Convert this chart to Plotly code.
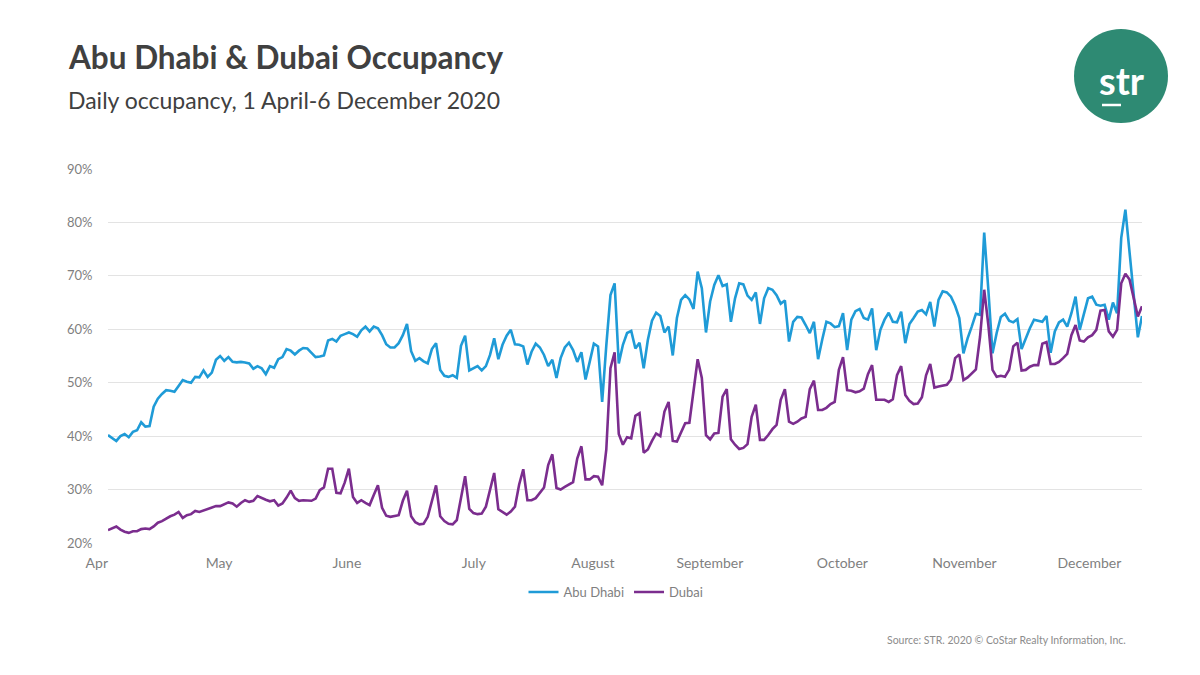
import pandas as pd
import plotly.graph_objects as go

# ---------------- data ----------------
start_date = "2020-04-01"
end_date = "2020-12-06"
dates = pd.date_range(start_date, end_date, freq="D")

abu_dhabi = [
    40.2, 39.6, 39.1, 40.0, 40.4, 39.8, 40.8, 41.1, 42.6, 41.8,
    41.9, 45.5, 47.0, 47.9, 48.6, 48.5, 48.3, 49.4, 50.5, 50.2,
    50.0, 51.1, 51.0, 52.3, 51.1, 51.9, 54.3, 55.0, 54.1, 54.8,
    53.9, 53.8, 53.9, 53.8, 53.6, 52.6, 53.1, 52.7, 51.6, 53.1,
    52.8, 54.4, 54.8, 56.3, 56.0, 55.3, 56.0, 56.5, 56.4, 55.6,
    54.8, 54.9, 55.1, 57.9, 58.2, 57.7, 58.8, 59.1, 59.4, 59.1,
    58.6, 59.8, 60.5, 59.6, 60.5, 60.2, 58.9, 57.2, 56.6, 56.6,
    57.4, 58.9, 61.0, 55.9, 54.1, 54.6, 54.0, 53.6, 56.3, 57.4,
    52.4, 51.3, 51.1, 51.4, 50.9, 56.9, 58.8, 52.3, 52.7, 53.1,
    52.3, 53.1, 55.2, 58.3, 54.4, 57.1, 58.8, 59.9, 57.2, 57.1,
    56.8, 53.4, 55.8, 57.3, 56.6, 55.2, 53.1, 54.3, 50.9, 54.6,
    56.6, 57.5, 56.1, 53.9, 55.7, 50.6, 53.9, 57.3, 56.8, 46.4,
    57.0, 66.4, 68.6, 53.6, 57.1, 59.3, 59.7, 56.4, 57.5, 52.7,
    58.0, 61.6, 63.1, 62.5, 59.4, 60.5, 55.1, 62.1, 65.5, 66.4,
    65.6, 63.8, 70.8, 67.7, 59.4, 65.2, 68.3, 70.1, 68.1, 68.4,
    61.4, 65.8, 68.6, 68.4, 66.3, 65.5, 66.9, 61.0, 65.8, 67.7,
    67.4, 66.4, 64.8, 65.4, 57.7, 61.4, 62.3, 62.2, 60.8, 59.3,
    61.4, 54.4, 58.1, 61.4, 61.1, 60.4, 60.6, 63.0, 56.1, 61.8,
    63.4, 63.8, 62.1, 61.8, 63.9, 56.1, 59.9, 61.8, 63.1, 61.4,
    61.3, 63.3, 57.4, 61.0, 62.1, 63.3, 63.6, 62.8, 65.1, 60.5,
    65.5, 67.1, 66.9, 66.1, 64.4, 62.1, 55.5, 58.3, 60.5, 62.9,
    62.7, 78.1, 67.4, 55.5, 59.3, 62.3, 62.9, 61.6, 61.3, 61.9,
    56.3, 58.3, 60.2, 61.8, 61.6, 61.4, 62.5, 55.6, 59.6, 61.3,
    61.8, 60.5, 63.0, 66.1, 59.9, 63.1, 65.8, 66.1, 64.6, 64.4,
    64.6, 61.8, 65.0, 63.0, 77.1, 82.4, 74.0, 66.0, 58.5, 62.5,
]

dubai = [
    22.4, 22.8, 23.1, 22.5, 22.1, 21.9, 22.2, 22.2, 22.6, 22.7,
    22.6, 23.1, 23.8, 24.1, 24.6, 25.0, 25.3, 25.8, 24.7, 25.2,
    25.4, 26.0, 25.8, 26.1, 26.3, 26.6, 26.9, 26.9, 27.3, 27.6,
    27.4, 26.8, 27.5, 28.0, 27.7, 27.9, 28.8, 28.4, 28.1, 27.8,
    28.0, 27.0, 27.4, 28.5, 29.8, 28.4, 27.9, 28.0, 28.0, 27.9,
    28.3, 29.9, 30.4, 33.9, 33.9, 29.4, 29.3, 31.3, 33.9, 28.6,
    27.5, 28.0, 27.5, 27.1, 29.0, 30.8, 26.6, 25.1, 24.9, 25.1,
    25.2, 27.9, 29.8, 25.0, 23.9, 23.5, 23.6, 24.9, 28.1, 30.8,
    25.0, 24.1, 23.6, 23.5, 24.3, 28.6, 32.5, 26.4, 25.6, 25.4,
    25.5, 26.8, 30.2, 33.1, 26.3, 25.8, 25.3, 25.9, 26.8, 30.9,
    33.8, 28.0, 28.0, 28.4, 29.3, 30.4, 34.6, 36.6, 30.3, 30.0,
    30.5, 30.9, 31.4, 35.8, 38.1, 31.9, 31.9, 32.5, 32.4, 30.8,
    37.5, 52.7, 55.7, 40.4, 38.4, 39.8, 39.6, 43.8, 44.3, 36.9,
    37.5, 39.1, 40.5, 40.0, 44.6, 46.4, 39.1, 39.0, 40.8, 42.4,
    42.5, 48.6, 54.4, 50.9, 40.2, 39.4, 40.5, 40.6, 47.4, 48.8,
    39.4, 38.4, 37.6, 37.8, 38.5, 43.6, 45.9, 39.3, 39.3, 40.2,
    41.3, 42.1, 46.8, 48.8, 42.7, 42.3, 42.7, 43.3, 43.6, 48.8,
    50.4, 44.9, 44.9, 45.3, 46.0, 46.4, 52.4, 54.8, 48.6, 48.5,
    48.2, 48.4, 48.9, 51.6, 53.3, 46.8, 46.8, 46.8, 46.4, 46.9,
    51.4, 53.1, 47.7, 46.6, 46.0, 46.1, 47.3, 51.4, 53.5, 49.1,
    49.3, 49.4, 49.6, 50.6, 54.6, 55.3, 50.5, 51.0, 51.8, 52.5,
    58.6, 67.4, 60.8, 52.4, 51.1, 51.3, 51.1, 52.4, 56.8, 57.5,
    52.3, 52.4, 53.0, 53.3, 53.3, 57.3, 57.6, 53.5, 53.5, 53.9,
    54.6, 55.4, 58.9, 60.8, 57.9, 57.7, 58.5, 58.9, 59.9, 63.5,
    63.6, 59.6, 58.6, 59.9, 68.6, 70.4, 69.3, 66.1, 62.4, 64.3,
]

month_ticks = ["2020-04-01", "2020-05-01", "2020-06-01", "2020-07-01", "2020-08-01",
               "2020-09-01", "2020-10-01", "2020-11-01", "2020-12-01"]
month_labels = ["Apr", "May", "June", "July", "August", "September", "October",
                "November", "December"]
y_ticks = [20, 30, 40, 50, 60, 70, 80, 90]
series_names = ["Abu Dhabi", "Dubai"]

title_text = "Abu Dhabi & Dubai Occupancy"
subtitle_text = "Daily occupancy, 1 April-6 December 2020"
source_text = "Source: STR. 2020 © CoStar Realty Information, Inc."

# ---------------- layout helpers ----------------
# the page body has an 8px margin, so the figure is drawn 8px right/down
OFF = 8
W, H = 1200 - OFF, 675 - OFF
L, R, T, B = 108 - OFF, 1142 - OFF, 169 - OFF, 543 - OFF


def px(x):
    return (x - OFF - L) / (R - L)


def py(y):
    return (B - (y - OFF)) / (B - T)


FONT = "Lato"
GRAY = "#7f7f7f"
DARK = "#404040"

fig = go.Figure()
fig.add_trace(go.Scatter(x=dates, y=abu_dhabi, mode="lines", name=series_names[0],
                         line=dict(color="#1f9bd7", width=2.6)))
fig.add_trace(go.Scatter(x=dates, y=dubai, mode="lines", name=series_names[1],
                         line=dict(color="#7b2d8e", width=2.6)))

fig.update_layout(
    width=W, height=H,
    margin=dict(l=L, r=W - R, t=T, b=H - B, pad=0),
    paper_bgcolor="white", plot_bgcolor="white",
    font=dict(family=FONT, color=GRAY),
    showlegend=True,
    legend=dict(orientation="h", x=px(616), xanchor="center", y=py(592), yanchor="middle",
                font=dict(size=13, color=GRAY), itemwidth=30, tracegroupgap=0),
    hovermode=False,
)

fig.update_xaxes(
    type="date",
    range=[start_date, end_date],
    tickvals=month_ticks, ticktext=month_labels,
    ticklabelposition="outside left",
    ticklabelstandoff=10,
    ticks="",
    tickfont=dict(size=14, color=GRAY, family=FONT),
    showgrid=False, zeroline=False, showline=False,
)
fig.update_yaxes(
    range=[20, 90],
    tickvals=y_ticks, ticktext=[f"{v}%" for v in y_ticks],
    tickfont=dict(size=13, color=GRAY, family=FONT),
    ticks="outside", ticklen=12, tickcolor="rgba(0,0,0,0)",
    showgrid=True, gridcolor="#e3e3e3", gridwidth=1,
    zeroline=False, showline=False,
)

annotations = [
    dict(text=f"<b>{title_text}</b>", x=px(66), y=py(57), xref="paper", yref="paper",
         xanchor="left", yanchor="middle", showarrow=False,
         font=dict(size=31.5, color=DARK, family=FONT)),
    dict(text=subtitle_text, x=px(66), y=py(100), xref="paper", yref="paper",
         xanchor="left", yanchor="middle", showarrow=False,
         font=dict(size=23, color=DARK, family=FONT)),
    dict(text=source_text, x=px(1128), y=py(640), xref="paper", yref="paper",
         xanchor="right", yanchor="middle", showarrow=False,
         font=dict(size=10.5, color="#8c8c8c", family=FONT)),
    dict(text="<b>str</b>", x=px(1122), y=py(80), xref="paper", yref="paper",
         xanchor="center", yanchor="middle", showarrow=False,
         font=dict(size=38, color="white", family=FONT)),
]
fig.update_layout(annotations=annotations)

# logo circle + underline
cx, cy, r = 1121, 76, 47
fig.add_shape(type="circle", xref="paper", yref="paper",
              x0=px(cx - r), x1=px(cx + r), y0=py(cy + r), y1=py(cy - r),
              fillcolor="#2e8a73", line=dict(width=0))
fig.add_shape(type="line", xref="paper", yref="paper",
              x0=px(1102), x1=px(1121), y0=py(105), y1=py(105),
              line=dict(color="white", width=2.5))

fig.write_html("out.html")
